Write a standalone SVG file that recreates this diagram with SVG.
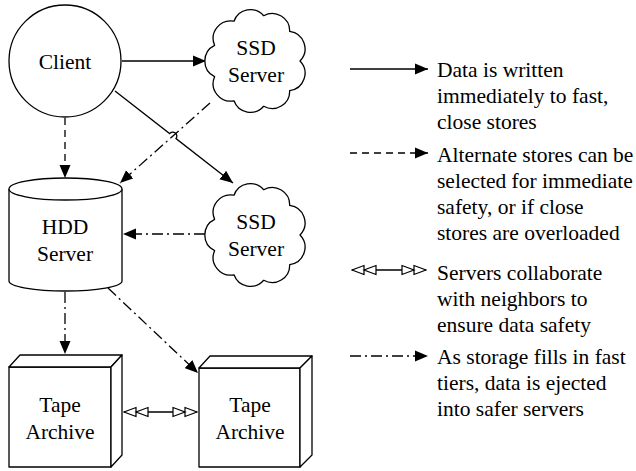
<svg xmlns="http://www.w3.org/2000/svg" xmlns:xlink="http://www.w3.org/1999/xlink" width="636" height="471" viewBox="0 0 636 471">
  <style>
    .shape { fill: #ffffff; stroke: #000000; stroke-width: 1.3; stroke-linejoin: round; }
    .label { font-family: "Liberation Serif", "Times New Roman", serif; font-size: 21.5px; fill: #000000; }
    .mid { text-anchor: middle; }
    .edge { fill: none; stroke: #000000; stroke-width: 1.3; }
    .solid { marker-end: url(#arrow); }
    .dashed { stroke-dasharray: 7 5; marker-end: url(#arrow); }
    .dashdot { stroke-dasharray: 11 4 2 4; marker-end: url(#arrow); }
    .both { marker-start: url(#double); marker-end: url(#double); }
  </style>
  <defs>
    <!-- filled arrowhead -->
    <marker id="arrow" viewBox="0 -6 14 12" refX="13" refY="0" markerWidth="14" markerHeight="12" markerUnits="userSpaceOnUse" orient="auto">
      <path d="M0,-5.5 L13,0 L0,5.5 Z" fill="#000000" stroke="none"/>
    </marker>
    <!-- two nested open triangles -->
    <marker id="double" viewBox="-1 -6 26 12" refX="24" refY="0" markerWidth="26" markerHeight="12" markerUnits="userSpaceOnUse" orient="auto-start-reverse">
      <path d="M12,-4.5 L24,0 L12,4.5 Z M0,-4.5 L12,0 L0,4.5 Z" fill="#ffffff" stroke="#000000" stroke-width="1.2" stroke-linejoin="miter"/>
    </marker>
    <!-- scalloped cloud outline centred on the origin -->
    <path id="cloud" d="M-41.4,-15.7 A17.5,17.5 0 0 1 -22,-39.8 A17.5,17.5 0 0 1 7.7,-45.3 A17.5,17.5 0 0 1 33.7,-29.6 A17.5,17.5 0 0 1 44,0 A17.5,17.5 0 0 1 33.7,29.6 A17.5,17.5 0 0 1 7.7,45.3 A17.5,17.5 0 0 1 -22,39.8 A17.5,17.5 0 0 1 -41.4,15.7 A17.5,17.5 0 0 1 -41.4,-15.7 Z"/>
  </defs>

  <rect x="0" y="0" width="636" height="471" fill="#ffffff"/>

  <!-- connectors -->
  <g id="connectors">
    <path class="edge solid" d="M122,61 L206,61"/>
    <path class="edge solid" d="M115,91 L169.6,133.6 A4,4 0 0 1 176,138.6 L233,183"/>
    <path class="edge dashed" d="M65,118 L65,178"/>
    <path class="edge dashdot" d="M210,103 L120,183"/>
    <path class="edge dashdot" d="M205,234 L123,234"/>
    <path class="edge dashdot" d="M65,292 L65,354"/>
    <path class="edge dashdot" d="M108,288 L198,373"/>
    <path class="edge both" d="M124,412 L197,412"/>
  </g>

  <!-- nodes -->
  <g id="client">
    <circle class="shape" cx="65" cy="61" r="56"/>
    <text class="label mid" x="65" y="69">Client</text>
  </g>

  <g id="ssd-server-1">
    <use xlink:href="#cloud" href="#cloud" class="shape" transform="translate(256,61)"/>
    <text class="label mid" x="256" y="55">SSD</text>
    <text class="label mid" x="256" y="82">Server</text>
  </g>

  <g id="ssd-server-2">
    <use xlink:href="#cloud" href="#cloud" class="shape" transform="translate(256,235)"/>
    <text class="label mid" x="256" y="229">SSD</text>
    <text class="label mid" x="256" y="256">Server</text>
  </g>

  <g id="hdd-server">
    <path class="shape" d="M9,189 L9,281 A56.5,10 0 0 0 122,281 L122,189"/>
    <ellipse class="shape" cx="65.5" cy="189" rx="56.5" ry="11"/>
    <text class="label mid" x="65" y="234">HDD</text>
    <text class="label mid" x="65" y="261">Server</text>
  </g>

  <g id="tape-archive-1">
    <rect class="shape" x="9" y="367" width="102" height="100"/>
    <path class="shape" d="M9,367 L20,355 L122,355 L111,367 Z"/>
    <path class="shape" d="M111,367 L122,355 L122,455 L111,467 Z"/>
    <text class="label mid" x="60" y="412">Tape</text>
    <text class="label mid" x="60" y="439">Archive</text>
  </g>

  <g id="tape-archive-2">
    <rect class="shape" x="199" y="368" width="101" height="99"/>
    <path class="shape" d="M199,368 L210,356 L312,356 L300,368 Z"/>
    <path class="shape" d="M300,368 L312,356 L312,455 L300,467 Z"/>
    <text class="label mid" x="250" y="412">Tape</text>
    <text class="label mid" x="250" y="439">Archive</text>
  </g>

  <!-- legend -->
  <g id="legend">
    <path class="edge solid" d="M350,69 L428,69"/>
    <text class="label" x="437" y="77">Data is written</text>
    <text class="label" x="437" y="103">immediately to fast,</text>
    <text class="label" x="437" y="129">close stores</text>

    <path class="edge dashed" d="M350,153 L428,153"/>
    <text class="label" x="437" y="162">Alternate stores can be</text>
    <text class="label" x="437" y="188">selected for immediate</text>
    <text class="label" x="437" y="214">safety, or if close</text>
    <text class="label" x="437" y="240">stores are overloaded</text>

    <path class="edge both" d="M352,270 L426,270"/>
    <text class="label" x="437" y="280">Servers collaborate</text>
    <text class="label" x="437" y="306">with neighbors to</text>
    <text class="label" x="437" y="332">ensure data safety</text>

    <path class="edge dashdot" d="M350,356 L428,356"/>
    <text class="label" x="437" y="364">As storage fills in fast</text>
    <text class="label" x="437" y="390">tiers, data is ejected</text>
    <text class="label" x="437" y="416">into safer servers</text>
  </g>
</svg>
